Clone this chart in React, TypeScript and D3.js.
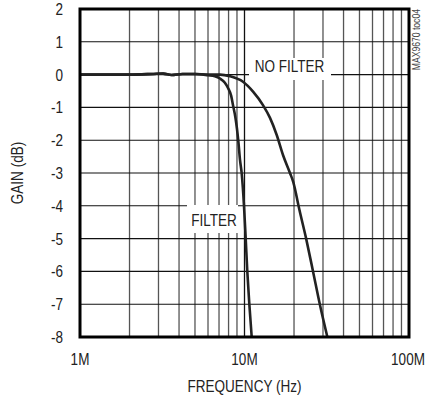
import React from "react";
import * as d3 from "d3";

const freqTickValues = [1e6, 1e7, 1e8];
const freqTickLabels = ["1M", "10M", "100M"];
const gainTickValues = [2, 1, 0, -1, -2, -3, -4, -5, -6, -7, -8];

// frequency in MHz, gain in dB
const filterFreq = [1, 2, 2.8, 3.2, 3.6, 4.2, 5, 6, 6.6, 7.1, 7.6, 7.94, 8.3, 8.51, 8.8, 9.0, 9.2, 9.39, 9.61, 9.93, 10.17, 10.4, 10.7, 11.06];
const filterGain = [0, 0, 0.02, 0.03, -0.01, 0.02, 0.02, -0.02, -0.05, -0.12, -0.25, -0.41, -0.65, -0.93, -1.3, -1.65, -2.1, -2.6, -3.0, -4, -5, -6, -7, -8];

const noFilterFreq = [1, 2, 2.8, 3.2, 3.6, 4.2, 5, 6, 7.1, 8.16, 9.79, 11.27, 12.95, 14.29, 15.7, 17.14, 18.9, 19.8, 20.4, 21.3, 23.7, 26.1, 28.7, 31.9];
const noFilterGain = [0, 0, 0.02, 0.03, -0.01, 0.02, 0.02, 0, 0, -0.05, -0.22, -0.52, -0.93, -1.32, -1.84, -2.45, -3.0, -3.28, -3.55, -4, -5, -6, -7, -8];

const W = 426;
const H = 400;
const left = 80;
const right = 409;
const top = 9;
const bottom = 337;
const FONT = "'Liberation Sans', Arial, sans-serif";
const NARROW = 0.82;

type NTProps = {
  x: number;
  y: number;
  rotate?: number;
  anchor?: "start" | "middle" | "end";
  size?: number;
  fill?: string;
  baseline?: string;
  children: React.ReactNode;
};

function NarrowText({ x, y, rotate = 0, anchor = "middle", size = 16.5, fill = "#222", baseline, children }: NTProps) {
  return (
    <text
      transform={`translate(${x},${y}) rotate(${rotate}) scale(${NARROW},1)`}
      textAnchor={anchor}
      fontSize={size}
      fill={fill}
      dominantBaseline={baseline}
    >
      {children}
    </text>
  );
}

export default function App() {
  const x = d3.scaleLog().domain([1e6, 1e8]).range([left, right]);
  const y = d3.scaleLinear().domain([-8, 2]).range([bottom, top]);

  const minor = x.ticks().filter((t) => !freqTickValues.includes(t));

  const line = d3
    .line<[number, number]>()
    .x((d) => x(d[0] * 1e6))
    .y((d) => y(d[1]))
    .curve(d3.curveMonotoneX);

  const filterPts = filterFreq.map((f, i) => [f, filterGain[i]] as [number, number]);
  const noFilterPts = noFilterFreq.map((f, i) => [f, noFilterGain[i]] as [number, number]);

  return (
    <svg
      width={W}
      height={H}
      style={{ position: "absolute", left: 0, top: 0, background: "#fff" }}
      fontFamily={FONT}
    >
      <rect width={W} height={H} fill="#fff" />
      {minor.map((t) => (
        <line key={"m" + t} x1={x(t)} x2={x(t)} y1={top} y2={bottom} stroke="#555" strokeWidth={1.3} />
      ))}
      {freqTickValues.map((t) => (
        <line key={"M" + t} x1={x(t)} x2={x(t)} y1={top} y2={bottom} stroke="#111" strokeWidth={1.3} />
      ))}
      {gainTickValues.map((g) => (
        <line key={"g" + g} x1={left} x2={right} y1={y(g)} y2={y(g)} stroke="#111" strokeWidth={1.1} />
      ))}
      {/* label boxes */}
      <rect x={249} y={58} width={82} height={22} fill="#fff" />
      <rect x={187} y={205} width={51} height={28} fill="#fff" />
      <NarrowText x={289.5} y={66} baseline="central">NO FILTER</NarrowText>
      <NarrowText x={214} y={220} baseline="central">FILTER</NarrowText>
      <path d={line(noFilterPts) || ""} fill="none" stroke="#222" strokeWidth={2.6} strokeLinejoin="round" />
      <path d={line(filterPts) || ""} fill="none" stroke="#222" strokeWidth={2.6} strokeLinejoin="round" />
      <rect x={left} y={top} width={right - left} height={bottom - top} fill="none" stroke="#000" strokeWidth={3} />
      {gainTickValues.map((g) => (
        <NarrowText key={"gl" + g} x={63} y={y(g)} anchor="end" baseline="central">
          {g}
        </NarrowText>
      ))}
      {freqTickValues.map((t, i) => (
        <NarrowText key={"fl" + t} x={Math.min(x(t), 408)} y={365}>
          {freqTickLabels[i]}
        </NarrowText>
      ))}
      <NarrowText x={(left + right) / 2} y={392}>FREQUENCY (Hz)</NarrowText>
      <NarrowText x={23} y={173} rotate={-90}>GAIN (dB)</NarrowText>
      <NarrowText x={420} y={9} rotate={-90} anchor="end" size={10.5} fill="#444">
        MAX9670 toc04
      </NarrowText>
    </svg>
  );
}
